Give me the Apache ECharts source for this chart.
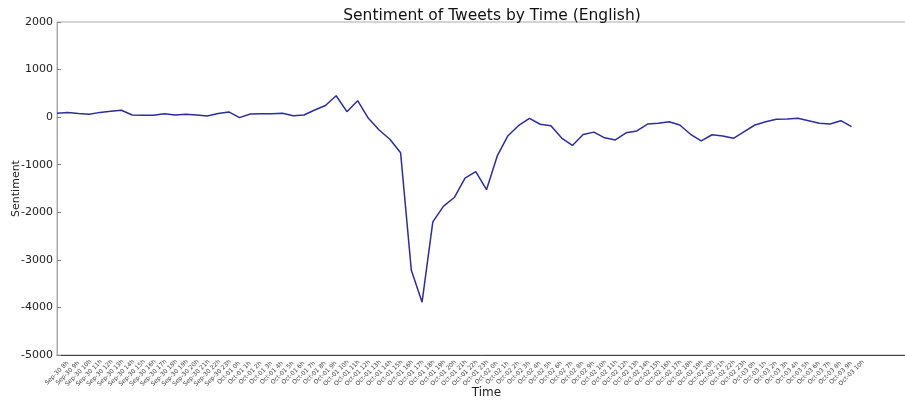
<!DOCTYPE html>
<html>
<head>
<meta charset="utf-8">
<script src="https://cdn.jsdelivr.net/npm/echarts@6/dist/echarts.min.js"></script>
<style>
  html, body { margin: 0; padding: 0; background: #fff; }
  #chart { width: 905px; height: 401px; }
</style>
</head>
<body>
<div id="chart"></div>
<script>
// hourly time labels
var hours = [
    'Sep-30 8h', 'Sep-30 9h', 'Sep-30 10h', 'Sep-30 11h', 'Sep-30 12h', 'Sep-30 13h', 'Sep-30 14h', 'Sep-30 15h',
    'Sep-30 16h', 'Sep-30 17h', 'Sep-30 18h', 'Sep-30 19h', 'Sep-30 20h', 'Sep-30 21h', 'Sep-30 22h', 'Sep-30 23h',
    'Oct-01 0h', 'Oct-01 1h', 'Oct-01 2h', 'Oct-01 3h', 'Oct-01 4h', 'Oct-01 5h', 'Oct-01 6h', 'Oct-01 7h',
    'Oct-01 8h', 'Oct-01 9h', 'Oct-01 10h', 'Oct-01 11h', 'Oct-01 12h', 'Oct-01 13h', 'Oct-01 14h', 'Oct-01 15h',
    'Oct-01 16h', 'Oct-01 17h', 'Oct-01 18h', 'Oct-01 19h', 'Oct-01 20h', 'Oct-01 21h', 'Oct-01 22h', 'Oct-01 23h',
    'Oct-02 0h', 'Oct-02 1h', 'Oct-02 2h', 'Oct-02 3h', 'Oct-02 4h', 'Oct-02 5h', 'Oct-02 6h', 'Oct-02 7h',
    'Oct-02 8h', 'Oct-02 9h', 'Oct-02 10h', 'Oct-02 11h', 'Oct-02 12h', 'Oct-02 13h', 'Oct-02 14h', 'Oct-02 15h',
    'Oct-02 16h', 'Oct-02 17h', 'Oct-02 18h', 'Oct-02 19h', 'Oct-02 20h', 'Oct-02 21h', 'Oct-02 22h', 'Oct-02 23h',
    'Oct-03 0h', 'Oct-03 1h', 'Oct-03 2h', 'Oct-03 3h', 'Oct-03 4h', 'Oct-03 5h', 'Oct-03 6h', 'Oct-03 7h',
    'Oct-03 8h', 'Oct-03 9h', 'Oct-03 10h'
];

// sentiment per hour
var sentiment = [
    80, 100, 75, 60, 100, 125, 145, 45, 40, 40, 70, 45, 60, 45, 25, 75,
    110, -10, 65, 70, 70, 80, 30, 45, 150, 245, 450, 115, 345, -25, -270, -465,
    -750, -3220, -3890, -2200, -1870, -1690, -1280, -1145,
    -1525, -815, -390, -175, -25, -150, -180, -440, -595, -365, -315, -435, -480, -330, -290, -145,
    -130, -95, -165, -360, -500, -370, -395, -445,
    -305, -165, -95, -45, -40, -25, -75, -130, -145, -75, -200
];

var yTicks = [2000, 1000, 0, -1000, -2000, -3000, -4000, -5000];

var seriesData = hours.map(function (h, i) {
    return [i, sentiment[i]];
});

var myChart = echarts.init(document.getElementById('chart'));
myChart.setOption({
    animation: false,
    textStyle: { fontFamily: 'DejaVu Sans' },
    title: {
        text: 'Sentiment of Tweets by Time (English)',
        left: 487,
        top: 3,
        textAlign: 'center',
        textStyle: { fontSize: 15.5, fontWeight: 'normal', color: '#111' }
    },
    grid: {
        left: 57,
        right: -11,
        top: 22,
        bottom: 46,
        containLabel: false,
        outerBoundsMode: 'none',
        show: true,
        borderColor: '#aaa',
        borderWidth: 1
    },
    xAxis: {
        type: 'value',
        min: 0,
        max: 80,
        interval: 1,
        name: 'Time',
        nameLocation: 'middle',
        nameGap: 32,
        nameMoveOverlap: false,
        nameTextStyle: { fontSize: 12, color: '#222', verticalAlign: 'top' },
        axisLine: { show: true, onZero: false, lineStyle: { color: '#444', width: 1 } },
        axisTick: { show: false },
        splitLine: { show: false },
        axisLabel: {
            rotate: 45,
            align: 'center',
            verticalAlign: 'middle',
            margin: 18,
            fontSize: 6,
            color: '#444',
            formatter: function (v) {
                return hours[v] || '';
            }
        }
    },
    yAxis: {
        type: 'value',
        min: -5000,
        max: 2000,
        interval: 1000,
        name: 'Sentiment',
        nameLocation: 'middle',
        nameGap: 35,
        nameMoveOverlap: false,
        nameTextStyle: { fontSize: 11, color: '#222' },
        axisLine: { show: true, lineStyle: { color: '#aaa', width: 1 } },
        axisTick: { show: true, inside: true, length: 4, lineStyle: { color: '#888' } },
        splitLine: { show: false },
        axisLabel: {
            margin: 4,
            fontSize: 11,
            color: '#222',
            formatter: function (v) {
                return yTicks.indexOf(v) >= 0 ? String(v) : '';
            }
        }
    },
    series: [{
        type: 'line',
        data: seriesData,
        showSymbol: false,
        lineStyle: { color: '#2d2d9c', width: 1.5 }
    }]
});
</script>
</body>
</html>
